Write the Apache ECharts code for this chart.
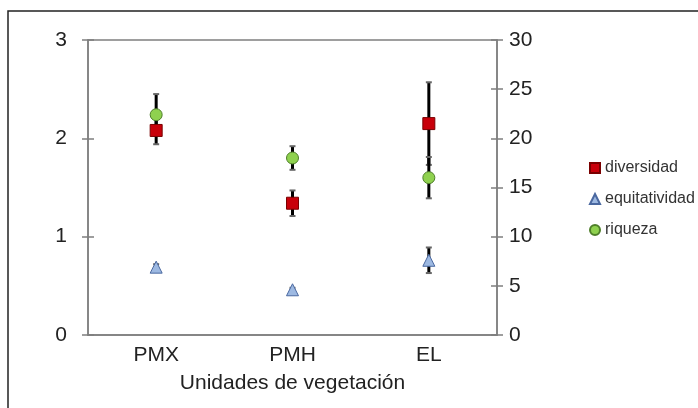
<!DOCTYPE html>
<html>
<head>
<meta charset="utf-8">
<script src="https://cdn.jsdelivr.net/npm/echarts@6/dist/echarts.min.js"></script>
<style>html,body{margin:0;padding:0;background:#fff}#c{width:698px;height:408px}</style>
</head>
<body>
<div id="c"></div>
<script>
const categories = ['PMX', 'PMH', 'EL'];
const leftTicks = [0, 1, 2, 3];
const rightTicks = [0, 5, 10, 15, 20, 25, 30];
const diversidad = [2.08, 1.34, 2.15];
const diversidadErr = [0.14, 0.13, 0.42];
const equitatividad = [0.69, 0.46, 0.76];
const equitatividadErr = [0.03, 0.02, 0.13];
const riqueza = [22.4, 18.0, 16.0];
const riquezaErr = [2.1, 1.2, 2.1];

const chart = echarts.init(document.getElementById('c'), null, {renderer: 'canvas'});
const font = 'Liberation Sans, Arial, sans-serif';
const axisGrey = '#7f7f7f';

function errData(vals, errs) {
  return vals.map((v, i) => [i, v - errs[i], v + errs[i]]);
}
function errRender(params, api) {
  const x = api.value(0);
  const lo = api.coord([x, api.value(1)]);
  const hi = api.coord([x, api.value(2)]);
  const cw = 3;
  return {
    type: 'group',
    children: [
      {type: 'line', shape: {x1: lo[0], y1: lo[1], x2: hi[0], y2: hi[1]}, style: {stroke: '#000', lineWidth: 3}},
      {type: 'line', shape: {x1: lo[0] - cw, y1: lo[1], x2: lo[0] + cw, y2: lo[1]}, style: {stroke: '#666', lineWidth: 2}},
      {type: 'line', shape: {x1: hi[0] - cw, y1: hi[1], x2: hi[0] + cw, y2: hi[1]}, style: {stroke: '#666', lineWidth: 2}}
    ]
  };
}

const option = {
  animation: false,
  backgroundColor: '#fff',
  textStyle: {fontFamily: font},
  graphic: [{
    type: 'rect', shape: {x: 8, y: 11, width: 720, height: 420},
    style: {fill: 'none', stroke: '#222', lineWidth: 1.5}, z: -1
  }],
  grid: {left: 88, right: 201, top: 40, bottom: 73, show: true, borderColor: axisGrey, borderWidth: 1.5, backgroundColor: 'transparent'},
  legend: {
    orient: 'vertical', left: 584, top: 155, itemGap: 15, itemWidth: 10, itemHeight: 10,
    textStyle: {fontSize: 16, color: '#333', fontFamily: font},
    data: ['diversidad', 'equitatividad', 'riqueza']
  },
  xAxis: {
    type: 'category', data: categories, boundaryGap: true,
    axisLine: {lineStyle: {color: axisGrey, width: 1.5}},
    axisTick: {show: false},
    axisLabel: {fontSize: 21, color: '#222', margin: 10},
    name: 'Unidades de vegetación', nameLocation: 'middle', nameGap: 38,
    nameTextStyle: {fontSize: 21, color: '#222'}
  },
  yAxis: [
    {type: 'value', min: 0, max: 3, interval: 1, position: 'left',
     axisLine: {show: true, lineStyle: {color: axisGrey, width: 1.5}},
     axisTick: {show: false},
     axisLabel: {fontSize: 21, color: '#222', margin: 21, formatter: v => leftTicks.includes(v) ? String(v) : ''},
     splitLine: {show: false}},
    {type: 'value', min: 0, max: 30, interval: 5, position: 'right',
     axisLine: {show: true, lineStyle: {color: axisGrey, width: 1.5}},
     axisTick: {show: false},
     axisLabel: {fontSize: 21, color: '#222', margin: 12, formatter: v => rightTicks.includes(v) ? String(v) : ''},
     splitLine: {show: false}},
    {type: 'value', min: 0, max: 3, interval: 1, position: 'left', offset: -6,
     axisLine: {show: false}, axisLabel: {show: false}, splitLine: {show: false},
     axisTick: {show: true, length: 12, lineStyle: {color: axisGrey, width: 1.5}}},
    {type: 'value', min: 0, max: 30, interval: 5, position: 'right', offset: -6,
     axisLine: {show: false}, axisLabel: {show: false}, splitLine: {show: false},
     axisTick: {show: true, length: 12, lineStyle: {color: axisGrey, width: 1.5}}}
  ],
  series: [
    {type: 'custom', yAxisIndex: 0, renderItem: errRender, data: errData(diversidad, diversidadErr), z: 2, silent: true},
    {type: 'custom', yAxisIndex: 0, renderItem: errRender, data: errData(equitatividad, equitatividadErr), z: 2, silent: true},
    {type: 'custom', yAxisIndex: 1, renderItem: errRender, data: errData(riqueza, riquezaErr), z: 2, silent: true},
    {name: 'diversidad', type: 'scatter', yAxisIndex: 0, data: diversidad, symbol: 'rect', symbolSize: 12, z: 5,
     itemStyle: {color: '#c8000a', borderColor: '#7a0000', borderWidth: 1, opacity: 1}},
    {name: 'equitatividad', type: 'scatter', yAxisIndex: 0, data: equitatividad, symbol: 'triangle', symbolSize: 12, z: 5,
     itemStyle: {color: '#9db9e2', borderColor: '#4a68a0', borderWidth: 1, opacity: 1}},
    {name: 'riqueza', type: 'scatter', yAxisIndex: 1, data: riqueza, symbol: 'circle', symbolSize: 12, z: 6,
     itemStyle: {color: '#8fd14f', borderColor: '#4f7f2a', borderWidth: 1, opacity: 1}}
  ]
};
chart.setOption(option);
</script>
</body>
</html>
